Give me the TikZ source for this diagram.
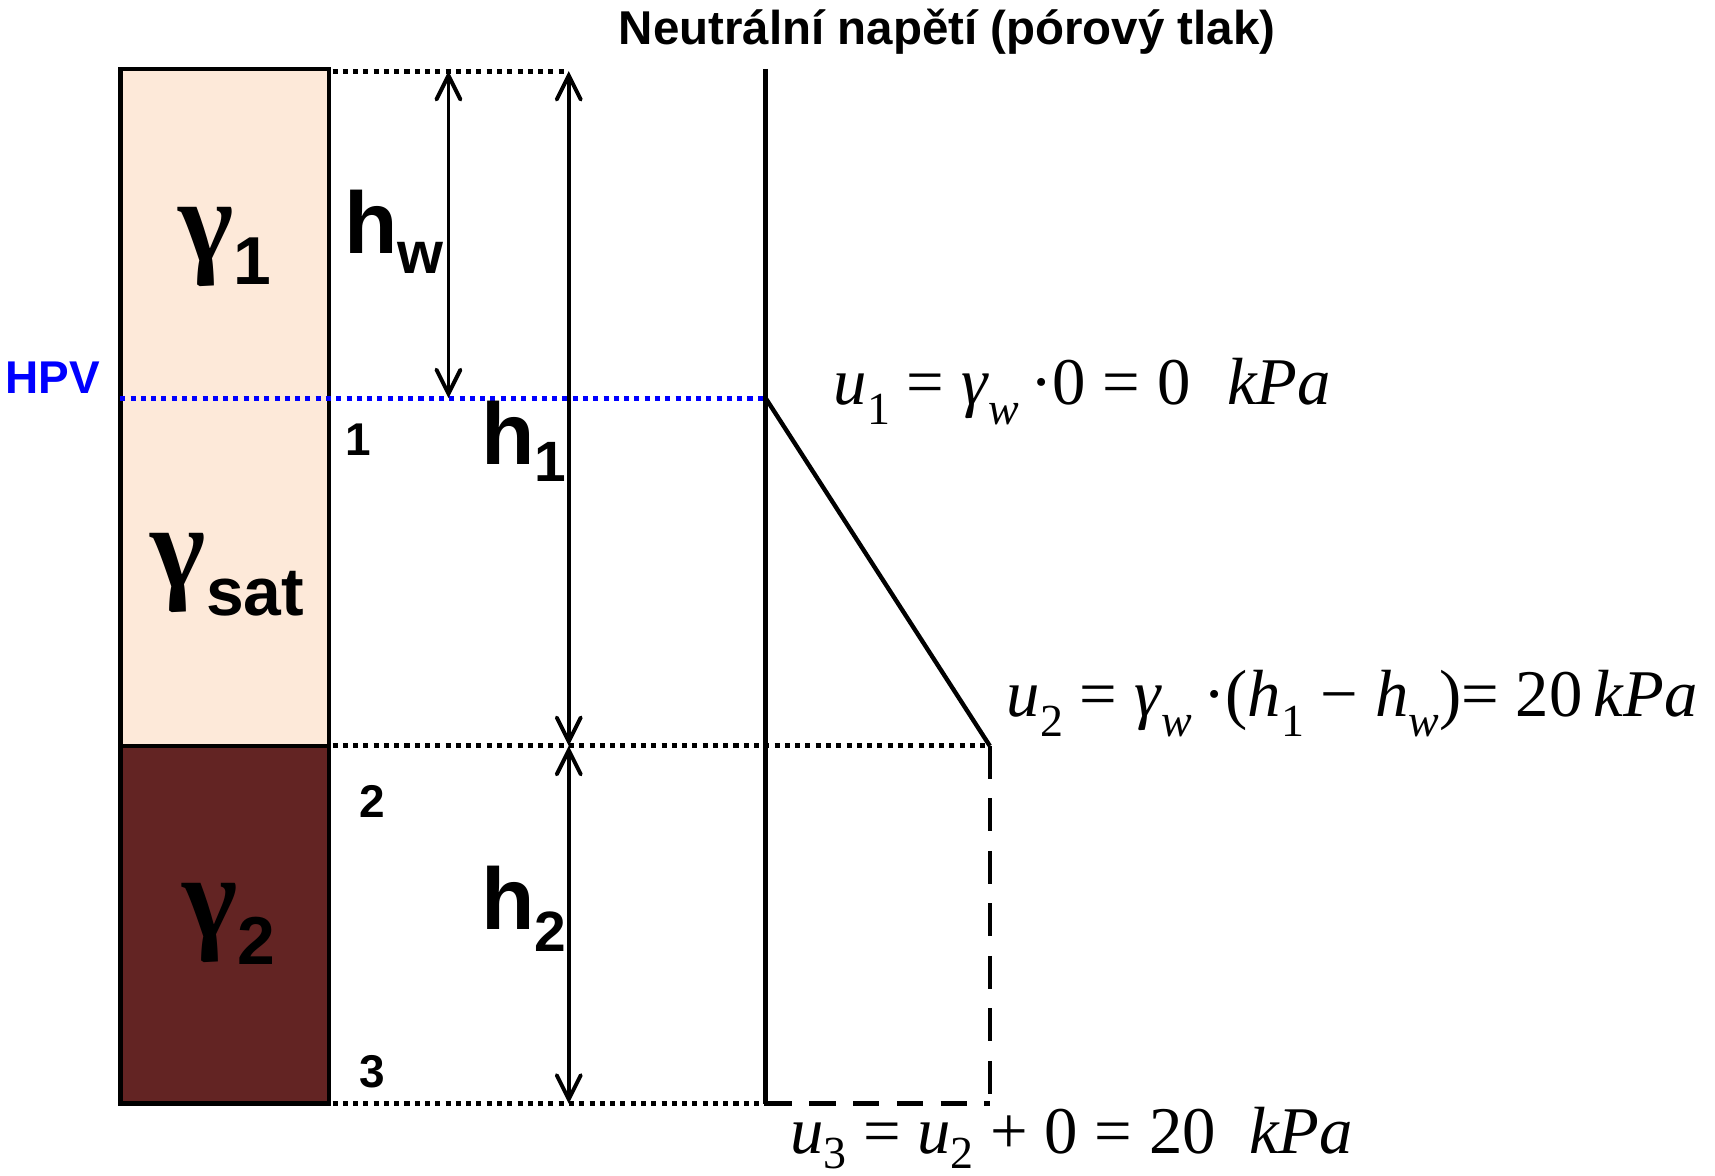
\documentclass[tikz,border=0pt]{standalone}
\usepackage{fontspec}
\setmainfont{Liberation Sans}
\newfontfamily\tnr{Liberation Serif}
\usetikzlibrary{arrows.meta}
\definecolor{peach}{HTML}{FDE9D9}
\definecolor{soilbrown}{HTML}{632423}
\definecolor{hpvblue}{HTML}{0000FF}
\newcommand\fsz[1]{\fontsize{#1}{#1}\selectfont}
\newcommand\eqsub[1]{\raisebox{-0.3em}{\fsz{21}#1}}
\newcommand\gammalab[2]{{\tnr\fsz{54}\bfseries γ}\raisebox{#2}{\fsz{31}\bfseries #1}}
\newcommand\hlab[3]{{\fsz{40}\bfseries h}\raisebox{#3}{\fsz{#1}\bfseries #2}}
\tikzset{
  barbtip/.tip={Straight Barb[length=11pt,width=11pt,line width=1.8pt,line cap=round]},
  soil/.style={draw=black, line width=2pt},
  dotline/.style={line width=2.3pt, dash pattern=on 2.3pt off 2.4pt},
  dimarrow/.style={line width=1.7pt, {barbtip}-{barbtip}},
  dashline/.style={line width=2pt, dash pattern=on 15pt off 9pt},
  lbl/.style={inner sep=0pt, outer sep=0pt},
  eqn/.style={inner sep=0pt, anchor=base west, font=\tnr\fsz{30.5}},
}
\begin{document}
\begin{tikzpicture}[x=0.5pt,y=-0.5pt]
\useasboundingbox (0,0) rectangle (1568,1075);
% coordinates
\coordinate (TL) at (110,63);
\coordinate (TR) at (301,63);
\coordinate (ML) at (110,682);
\coordinate (MR) at (301,682);
\coordinate (BL) at (110,1009);
\coordinate (BR) at (301,1009);
\coordinate (topdim) at (520,65);
\coordinate (hwtop) at (410,65);
\coordinate (hwbot) at (410,364);
\coordinate (hpvL) at (110,364);
\coordinate (axtop) at (700,63);
\coordinate (axhpv) at (700,364);
\coordinate (axbot) at (700,1009);
\coordinate (h1bot) at (520,682);
\coordinate (h2bot) at (520,1009);
\coordinate (u2pt) at (905,682);
\coordinate (u3pt) at (905,1009);
% soil layers
\fill[peach] (TL) rectangle (MR);
\fill[soilbrown] (ML) rectangle (BR);
\draw[soil] (TL) rectangle (BR);
\draw[soil] (ML) -- (MR);
% dotted level lines
\draw[dotline] (TR) ++(3,2) -- (topdim);
\draw[dotline] (MR) ++(3,0) -- (u2pt);
\draw[dotline] (BR) ++(3,0) -- (axbot);
\draw[dotline, hpvblue] (hpvL) -- (axhpv);
% dimension arrows
\draw[dimarrow] (hwtop) -- (hwbot);
\draw[dimarrow] (topdim) -- (h1bot);
\draw[dimarrow] (h1bot) -- (h2bot);
% pore pressure diagram
\draw[line width=2pt] (axtop) -- (axbot);
\draw[line width=2pt] (axhpv) -- (u2pt);
\draw[dashline] (u2pt) -- (u3pt);
\draw[dashline, line width=2.6pt, dash pattern=on 12pt off 8pt] (axbot) -- (u3pt);
% labels
\node[lbl, anchor=base] (title) at (866,41) {\fsz{21.7}\bfseries Neutrální napětí (pórový tlak)};
\node[lbl, anchor=base west, text=hpvblue] (hpv) at (5,360) {\fsz{21}\bfseries HPV};
\node[lbl, anchor=base west] (g1) at (163,239) {\gammalab{1}{-10.5pt}};
\node[lbl, anchor=base west] (gsat) at (138,537) {\gammalab{sat}{-13pt}};
\node[lbl, anchor=base west] (g2) at (167,857) {\gammalab{2}{-12.5pt}};
\node[lbl, anchor=base west] (hw) at (315,232) {\hlab{27}{w}{-9pt}};
\node[lbl, anchor=base west] (h1) at (440,425) {\hlab{26}{1}{-7.5pt}};
\node[lbl, anchor=base west] (h2) at (440,850) {\hlab{26}{2}{-10pt}};
\node[lbl] (n1) at (328,402) {\fsz{21}\bfseries 1};
\node[lbl] (n2) at (340,733) {\fsz{21}\bfseries 2};
\node[lbl] (n3) at (340,980) {\fsz{21}\bfseries 3};
\node[eqn] (u1) at (762,370) {\textit{u}\eqsub{1} = \textit{γ}\eqsub{\textit{w}}\,·0 = 0\hspace{0.55em}\textit{kPa}};
\node[eqn] (u2) at (920,655) {\textit{u}\eqsub{2} = \textit{γ}\eqsub{\textit{w}}\,·(\textit{h}\eqsub{1} − \textit{h}\eqsub{\textit{w}})= 20\,\textit{kPa}};
\node[eqn] (u3) at (722,1055) {\textit{u}\raisebox{-0.22em}{\fsz{21}3} = \textit{u}\raisebox{-0.22em}{\fsz{21}2} + 0 = 20\hspace{0.5em}\textit{kPa}};
\end{tikzpicture}
\end{document}
